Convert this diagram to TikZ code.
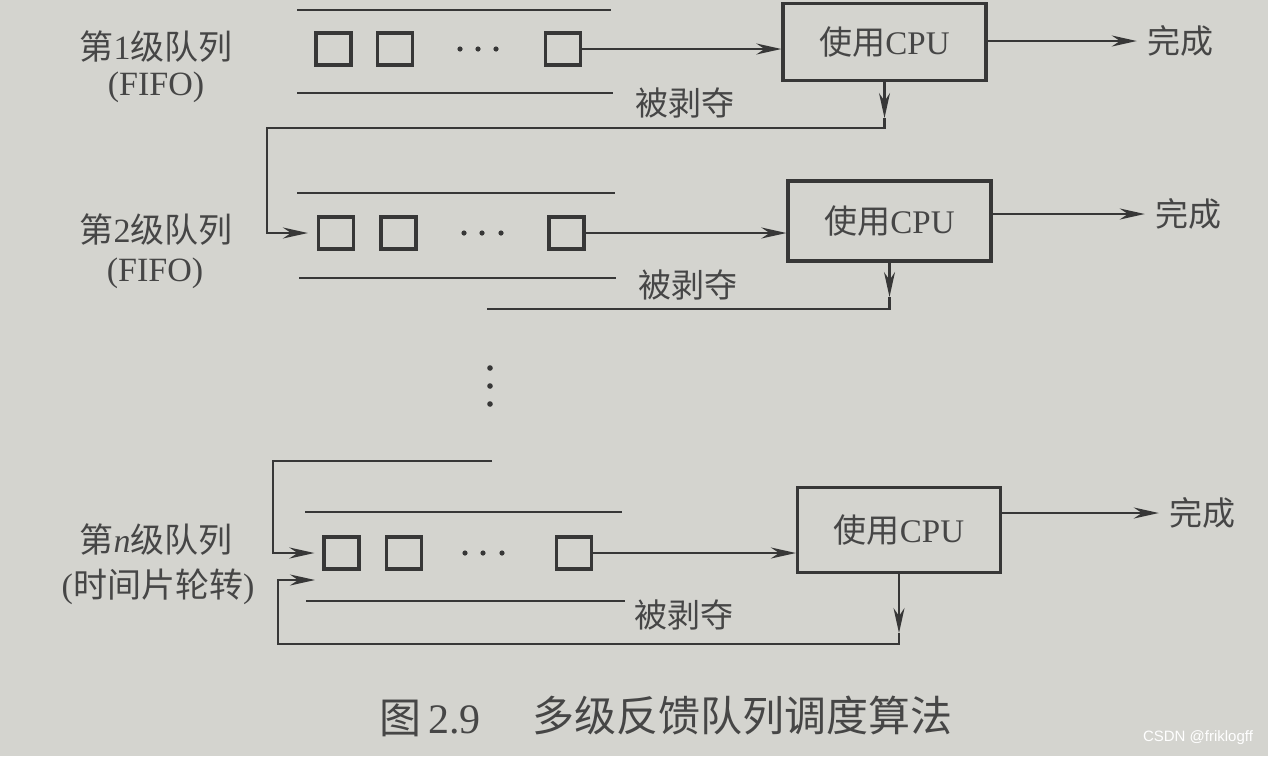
\documentclass[tikz,border=0pt]{standalone}
\usepackage{fontspec}
\setmainfont{Liberation Serif}
\setsansfont{Liberation Sans}
\newfontfamily\cjk{Noto Sans CJK SC}
\usetikzlibrary{arrows.meta}
\definecolor{bg}{RGB}{212,212,207}
\definecolor{ink}{RGB}{55,55,55}
\definecolor{txt}{RGB}{70,70,70}
\begin{document}
\begin{tikzpicture}[x=1pt,y=-1pt,
  sqbox/.style={draw=ink, line width=3.2pt, minimum width=35pt, minimum height=32pt, inner sep=0pt},
  cpubox/.style={draw=ink, line width=3.2pt, minimum width=203pt, inner sep=0pt, text=txt,
                 font=\fontsize{33}{36}\selectfont},
  qline/.style={draw=ink, line width=2.9pt},
  conn/.style={draw=ink, line width=2.6pt},
  arr/.style={draw=ink, line width=2.6pt, -{Stealth[length=25pt,width=11pt]}},
  lbl/.style={text=txt, inner sep=0pt, font=\fontsize{34}{38}\selectfont},
  txtlbl/.style={text=txt, inner sep=0pt, font=\fontsize{33}{36}\selectfont},
  dotm/.style={fill=ink}
]
\useasboundingbox (0,0) rectangle (1268,756);
\fill[bg] (0,0) rectangle (1268,756);

% ---------- level 1 ----------
\node[lbl] (l1a) at (156,47) {{\cjk 第}1{\cjk 级队列}};
\node[lbl] (l1b) at (156,87) {(FIFO)};
\draw[qline] (297,10) -- (611,10);
\draw[qline] (297,93) -- (613,93);
\node[sqbox] (q11) at (333.5,49) {};
\node[sqbox] (q12) at (395,49) {};
\node[sqbox] (q13) at (563,49) {};
\fill[dotm] (460,49) circle (2.6);
\fill[dotm] (478,49) circle (2.6);
\fill[dotm] (496,49) circle (2.6);
\node[cpubox, minimum height=77pt] (c1) at (884.5,42) {{\cjk 使用}CPU};
\node[txtlbl] (d1) at (1180,41) {\cjk 完成};
\node[txtlbl] (b1) at (685,103) {\cjk 被剥夺};
\draw[arr] (q13.east) -- (q13.east -| c1.west);
\draw[arr, shorten >=10pt] (c1.east |- d1.west) -- (d1.west);

% ---------- level 2 ----------
\node[lbl] (l2a) at (156,230) {{\cjk 第}2{\cjk 级队列}};
\node[lbl] (l2b) at (155,273) {(FIFO)};
\draw[qline] (297,193) -- (615,193);
\draw[qline] (299,278) -- (616,278);
\node[sqbox] (q21) at (336,233) {};
\node[sqbox] (q22) at (398.5,233) {};
\node[sqbox] (q23) at (566.5,233) {};
\fill[dotm] (464,233) circle (2.6);
\fill[dotm] (482,233) circle (2.6);
\fill[dotm] (501,233) circle (2.6);
\node[cpubox, minimum height=80pt] (c2) at (889.5,221) {{\cjk 使用}CPU};
\node[txtlbl] (d2) at (1188,214) {\cjk 完成};
\node[txtlbl] (b2) at (688,285) {\cjk 被剥夺};
\draw[arr] (q23.east) -- (q23.east -| c2.west);
\draw[arr, shorten >=10pt] (c2.east |- d2.west) -- (d2.west);

% level 1 preemption -> level 2
\coordinate (t1) at (884.5,118);
\coordinate (k1) at (884.5,128);
\coordinate (k2) at (267,128);
\draw[arr] (c1.south) -- (t1);
\draw[arr, shorten >=9pt] (t1) -- (k1) -- (k2) -- (k2 |- q21.west) -- (q21.west);

% level 2 preemption
\coordinate (t2) at (889.5,297);
\coordinate (k3) at (889.5,309);
\coordinate (e2) at (487,309);
\draw[arr] (c2.south) -- (t2);
\draw[conn] (t2) -- (k3) -- (e2);

% ---------- vertical dots ----------
\fill[dotm] (490,368) circle (2.8);
\fill[dotm] (490,386) circle (2.8);
\fill[dotm] (490,404) circle (2.8);

% ---------- level n ----------
\node[lbl] (l3a) at (156,540) {{\cjk 第}\textit{n}{\cjk 级队列}};
\node[lbl] (l3b) at (158,587) {({\cjk 时间片轮转})};
\draw[qline] (305,512) -- (622,512);
\draw[qline] (306,601) -- (625,601);
\node[sqbox] (q31) at (341.5,553) {};
\node[sqbox] (q32) at (404,553) {};
\node[sqbox] (q33) at (574,553) {};
\fill[dotm] (465,553) circle (2.6);
\fill[dotm] (483,553) circle (2.6);
\fill[dotm] (502,553) circle (2.6);
\node[cpubox, minimum height=85pt] (c3) at (899,530) {{\cjk 使用}CPU};
\node[txtlbl] (d3) at (1202,513) {\cjk 完成};
\node[txtlbl] (b3) at (684,615) {\cjk 被剥夺};
\draw[arr] (q33.east) -- (q33.east -| c3.west);
\draw[arr, shorten >=10pt] (c3.east |- d3.west) -- (d3.west);
\coordinate (e3) at (492,461);
\coordinate (k4) at (273,461);
\draw[arr, shorten >=8pt] (e3) -- (k4) -- (k4 |- q31.west) -- (q31.west);
\coordinate (t3) at (899,633);
\coordinate (k5) at (899,644);
\coordinate (k6) at (278,644);
\coordinate (k7) at (278,580);
\coordinate (a3) at (315,580);
\draw[arr] (c3.south) -- (t3);
\draw[arr] (t3) -- (k5) -- (k6) -- (k7) -- (a3);

% ---------- caption ----------
\node[text=txt, inner sep=0pt, font=\fontsize{42}{46}\selectfont] (cap1) at (430,718) {{\cjk 图}\,2.9};
\node[text=txt, inner sep=0pt, font=\fontsize{42}{46}\selectfont] (cap2) at (742,716) {\cjk 多级反馈队列调度算法};
\node[text=white, inner sep=0pt, font=\sffamily\fontsize{15}{17}\selectfont] (wm) at (1198,738) {CSDN @friklogff};
\end{tikzpicture}
\end{document}
